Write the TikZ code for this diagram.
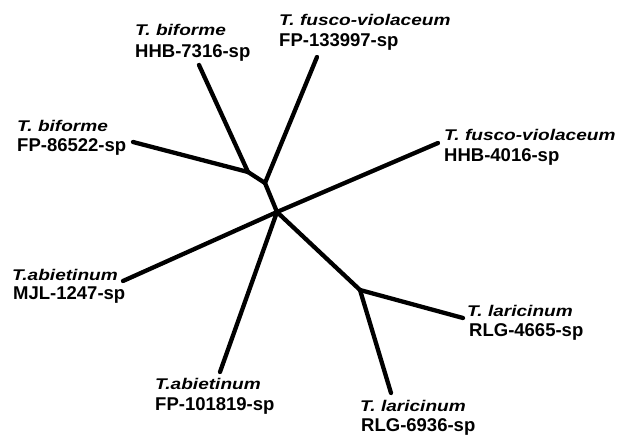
\documentclass[tikz,border=0pt]{standalone}
\usepackage{fontspec}
\setmainfont{Liberation Sans}
\usepackage{graphicx}
\newcommand{\stretchtxt}[1]{\scalebox{1.23}[1]{#1}}
\begin{document}
\begin{tikzpicture}[x=1pt,y=-1pt,
  branch/.style={line width=4.3pt, line cap=round, line join=round},
  sp/.style={anchor=base west, inner sep=0pt, font=\fontsize{15.5}{18}\selectfont\bfseries\itshape},
  strain/.style={anchor=base west, inner sep=0pt, font=\fontsize{18.5}{21}\selectfont\bfseries}]
\useasboundingbox (0,0) rectangle (619,435);
% internal nodes and leaves
\coordinate (C) at (277,212);
\coordinate (B) at (265,183);
\coordinate (A) at (248,172);
\coordinate (D) at (360,290);
\coordinate (L1) at (199,65);
\coordinate (L2) at (133,142);
\coordinate (L3) at (317,57);
\coordinate (L4) at (438,143);
\coordinate (L5) at (123,281);
\coordinate (L6) at (220,372);
\coordinate (L7) at (463,318);
\coordinate (L8) at (391,393);
% branches
\draw[branch] (C) -- (B);
\draw[branch] (B) -- (A);
\draw[branch] (A) -- (L1);
\draw[branch] (A) -- (L2);
\draw[branch] (B) -- (L3);
\draw[branch] (C) -- (L4);
\draw[branch] (C) -- (L5);
\draw[branch] (C) -- (L6);
\draw[branch] (C) -- (D);
\draw[branch] (D) -- (L7);
\draw[branch] (D) -- (L8);
% labels
\node[sp] (t1a) at (135,36) {\stretchtxt{T. biforme}};
\node[strain] (t1b) at (135,58) {HHB-7316-sp};
\node[sp] (t2a) at (279,26) {\stretchtxt{T. fusco-violaceum}};
\node[strain] (t2b) at (279,47) {FP-133997-sp};
\node[sp] (t3a) at (444,141) {\stretchtxt{T. fusco-violaceum}};
\node[strain] (t3b) at (444,162) {HHB-4016-sp};
\node[sp] (t4a) at (17,132) {\stretchtxt{T. biforme}};
\node[strain] (t4b) at (17,152) {FP-86522-sp};
\node[sp] (t5a) at (12,281) {\stretchtxt{T.abietinum}};
\node[strain] (t5b) at (13,300) {MJL-1247-sp};
\node[sp] (t6a) at (155,390) {\stretchtxt{T.abietinum}};
\node[strain] (t6b) at (155,411) {FP-101819-sp};
\node[sp] (t7a) at (467,317) {\stretchtxt{T. laricinum}};
\node[strain] (t7b) at (469,337) {RLG-4665-sp};
\node[sp] (t8a) at (360,412) {\stretchtxt{T. laricinum}};
\node[strain] (t8b) at (361,432) {RLG-6936-sp};
\end{tikzpicture}
\end{document}
